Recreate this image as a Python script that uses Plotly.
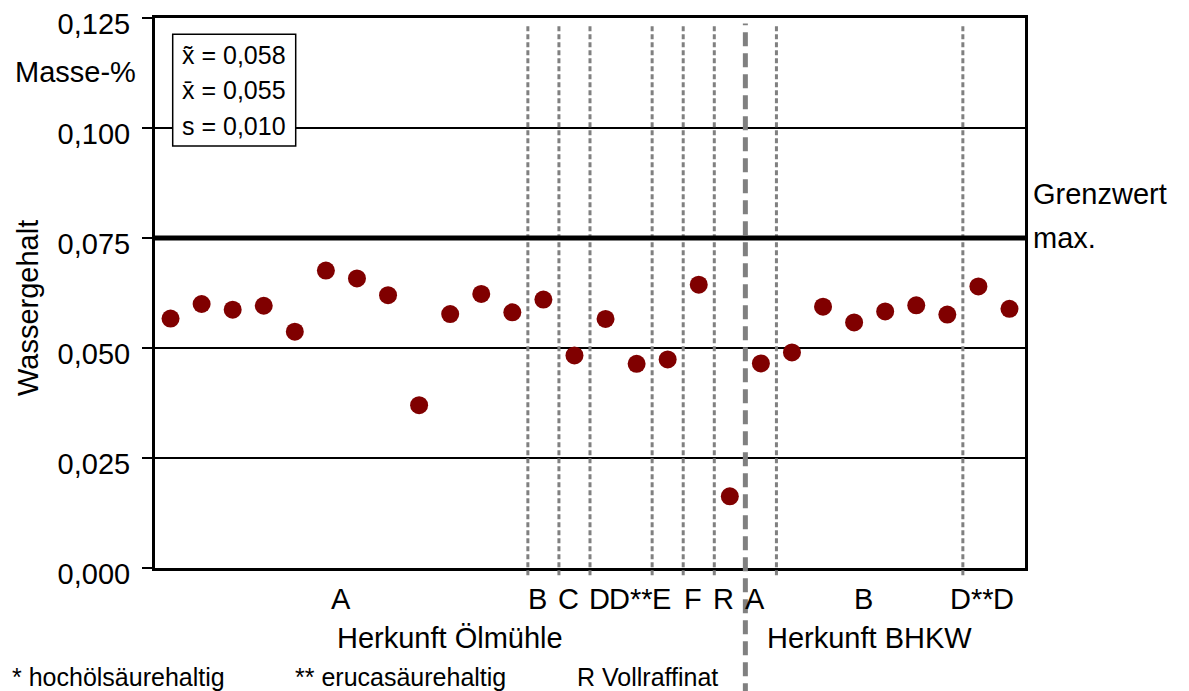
import plotly.graph_objects as go

# ---- data ----
sample_index = list(range(28))
water_content = [0.0567, 0.0600, 0.0587, 0.0596, 0.0537, 0.0676, 0.0658, 0.0620,
                 0.0370, 0.0577, 0.0623, 0.0581, 0.0610, 0.0483, 0.0566, 0.0464,
                 0.0474, 0.0644, 0.0163, 0.0465, 0.0490, 0.0594, 0.0558, 0.0583,
                 0.0597, 0.0576, 0.0640, 0.0589]
limit_value = 0.075
group_boundaries = [11.5, 12.5, 13.5, 15.5, 16.5, 17.5, 19.5, 25.5]
origin_divider = 18.5
cat_labels = ["A", "B", "C", "D", "D**", "E", "F", "R", "A", "B", "D**", "D"]
cat_label_pos = [5.5, 12, 13, 14, 15, 16, 17, 18, 19, 22.5, 26, 27]
origin_labels = ["Herkunft Ölmühle", "Herkunft BHKW"]
origin_label_pos = [9, 22.5]
stats_lines = ["x\u0303 = 0,058", "x\u0304 = 0,055", "s = 0,010"]
y_ticks = [0, 0.025, 0.05, 0.075, 0.1, 0.125]
footnotes = ["* hochölsäurehaltig", "** erucasäurehaltig", "R Vollraffinat"]

FONT = "Liberation Sans, Arial, sans-serif"
BIG = 29

fig = go.Figure()
fig.add_trace(go.Scatter(
    x=sample_index, y=water_content, mode="markers",
    marker=dict(size=18, color="#800000"),
    showlegend=False, cliponaxis=False))

# page body has an 8px margin; design in screen pixels
OFF = 8
SW, SH = 1189, 691
W, H = SW - OFF, SH - OFF
PLOT_L, PLOT_R, PLOT_T, PLOT_B = 155, 1025, 18, 568
L, T = PLOT_L - OFF, PLOT_T - OFF
R, B = W - (PLOT_R - OFF), H - (PLOT_B - OFF)
PW, PH = PLOT_R - PLOT_L, PLOT_B - PLOT_T

def px(xp):
    return (xp - PLOT_L) / PW

def py(yp):
    return (PLOT_B - yp) / PH

shapes = []
for b in group_boundaries:
    shapes.append(dict(type="line", xref="x", yref="paper", x0=b, x1=b,
                       y0=-0.013, y1=0.99,
                       line=dict(color="#808080", width=3, dash="5px,3px")))
shapes.append(dict(type="line", xref="x", yref="paper", x0=origin_divider, x1=origin_divider,
                   y0=-0.235, y1=0.99,
                   line=dict(color="#808080", width=5, dash="14px,7px")))
shapes.append(dict(type="line", xref="paper", yref="y", x0=0, x1=1,
                   y0=limit_value, y1=limit_value, line=dict(color="black", width=5)))
shapes.append(dict(type="rect", xref="paper", yref="paper",
                   x0=px(172.7), x1=px(295.7), y0=py(146), y1=py(34.3),
                   line=dict(color="black", width=1.5), fillcolor="white"))

annotations = []
for t, yp in zip(stats_lines, [55, 90, 126]):
    annotations.append(dict(text=t, xref="paper", yref="paper", x=px(180), y=py(yp),
                            xanchor="left", yanchor="middle", showarrow=False,
                            font=dict(size=25, color="black", family=FONT)))
for t, xp in zip(cat_labels, cat_label_pos):
    annotations.append(dict(text=t, xref="x", yref="paper", x=xp, y=py(599),
                            xanchor="center", yanchor="middle", showarrow=False,
                            xshift=0 if t == "A" and xp < 10 else -6,
                            font=dict(size=BIG, color="black", family=FONT)))
for t, xp in zip(origin_labels, origin_label_pos):
    annotations.append(dict(text=t, xref="x", yref="paper", x=xp, y=py(638),
                            xanchor="center", yanchor="middle", showarrow=False,
                            font=dict(size=BIG, color="black", family=FONT)))
for t, xp in zip(footnotes, [10, 293, 575]):
    annotations.append(dict(text=t, xref="paper", yref="paper", x=px(xp), y=py(677),
                            xanchor="left", yanchor="middle", showarrow=False,
                            font=dict(size=25, color="black", family=FONT)))
annotations.append(dict(text="Grenzwert", xref="paper", yref="paper", x=px(1031), y=py(194),
                        xanchor="left", yanchor="middle", showarrow=False,
                        font=dict(size=BIG, color="black", family=FONT)))
annotations.append(dict(text="max.", xref="paper", yref="paper", x=px(1031), y=py(238),
                        xanchor="left", yanchor="middle", showarrow=False,
                        font=dict(size=BIG, color="black", family=FONT)))
annotations.append(dict(text="Masse-%", xref="paper", yref="paper", x=px(138), y=py(72),
                        xanchor="right", yanchor="middle", showarrow=False,
                        font=dict(size=BIG, color="black", family=FONT)))
annotations.append(dict(text="Wassergehalt", xref="paper", yref="paper", x=px(28), y=py(308),
                        xanchor="center", yanchor="middle", showarrow=False, textangle=-90,
                        font=dict(size=BIG, color="black", family=FONT)))

fig.update_layout(
    width=W, height=H,
    margin=dict(l=L, r=R, t=T, b=B, pad=0, autoexpand=False),
    paper_bgcolor="white", plot_bgcolor="white",
    separators=",.",
    font=dict(family=FONT, size=BIG, color="black"),
    shapes=shapes, annotations=annotations,
    xaxis=dict(range=[-0.5, 27.5], showgrid=False, zeroline=False,
               showticklabels=False, ticks="", automargin=False,
               showline=True, mirror=True, linecolor="black", linewidth=3),
    yaxis=dict(range=[0, 0.125], tickvals=y_ticks, tickformat=".3f",
               showgrid=True, gridcolor="black", gridwidth=1.5, zeroline=False,
               ticks="outside", ticklen=10, tickwidth=1.5, tickcolor="black",
               ticklabelstandoff=6, ticklabelshift=6,
               automargin=False, ticklabeloverflow="allow",
               tickfont=dict(size=BIG, color="black", family=FONT),
               showline=True, mirror=True, linecolor="black", linewidth=3),
)

fig.write_html("out.html")
